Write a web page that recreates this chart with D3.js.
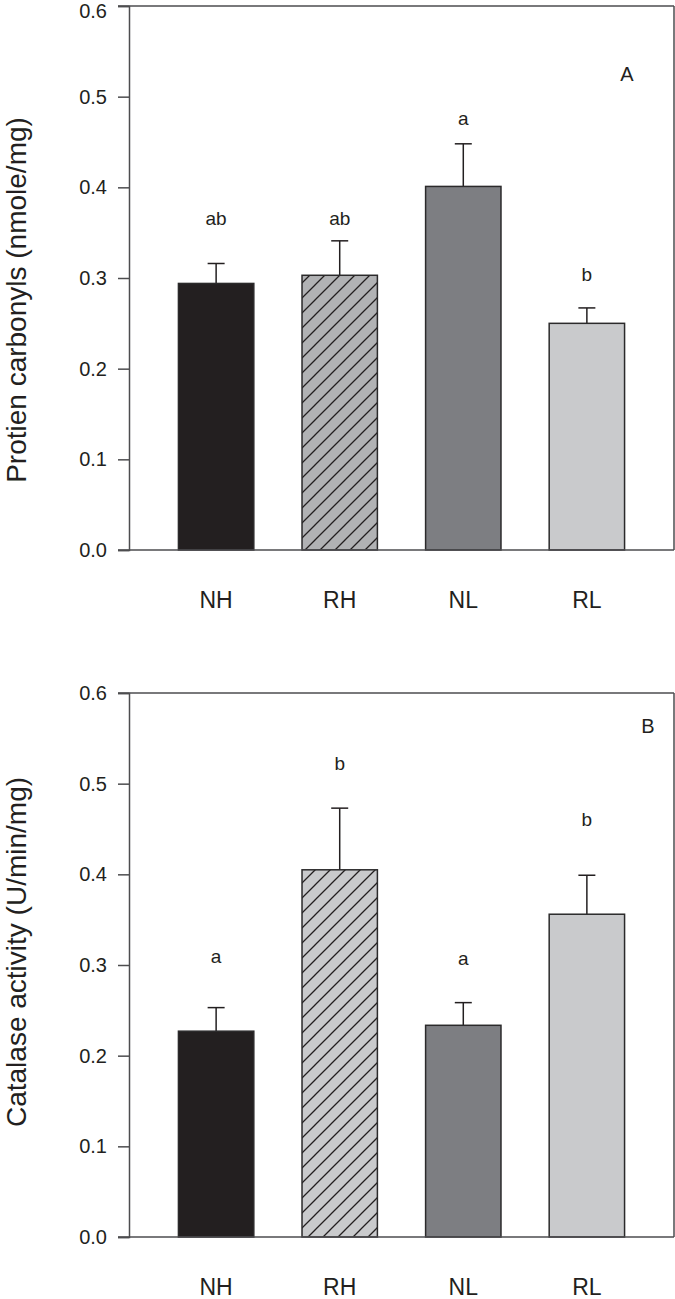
<!DOCTYPE html>
<html>
<head>
<meta charset="utf-8">
<script src="https://cdn.jsdelivr.net/npm/d3@7"></script>
<style>
  html, body { margin: 0; padding: 0; background: #ffffff; }
  svg { display: block; }
  text { font-family: "Liberation Sans", Arial, Helvetica, sans-serif; fill: #231f20; }
</style>
</head>
<body>
<script>
// ---------- data ----------
const categories = ["NH", "RH", "NL", "RL"];
const yTicks = [0.0, 0.1, 0.2, 0.3, 0.4, 0.5, 0.6];

const carbonylMeans   = [0.294, 0.303, 0.401, 0.250];
const carbonylErrors  = [0.022, 0.038, 0.047, 0.017];
const carbonylLetters = ["ab", "ab", "a", "b"];
const carbonylLetterY = [0.358, 0.358, 0.469, 0.297];

const catalaseMeans   = [0.227, 0.405, 0.2335, 0.356];
const catalaseErrors  = [0.026, 0.068, 0.025, 0.043];
const catalaseLetters = ["a", "b", "a", "b"];
const catalaseLetterY = [0.302, 0.515, 0.300, 0.453];

const barFills = ["#231f20", null, "#7d7e82", "#c9cacc"];

// ---------- drawing ----------
const W = 675, H = 1299;
const svg = d3.select("body").append("svg").attr("width", W).attr("height", H);
const defs = svg.append("defs");

function defineHatch(id, bg) {
  const p = defs.append("pattern")
    .attr("id", id).attr("patternUnits", "userSpaceOnUse")
    .attr("width", 15).attr("height", 15);
  p.append("rect").attr("width", 15).attr("height", 15).attr("fill", bg);
  p.append("path").attr("d", "M-2,2 L2,-2 M0,15 L15,0 M13,17 L17,13")
    .attr("stroke", "#231f20").attr("stroke-width", 1.3);
}
defineHatch("hatchA", "#b1b2b4");
defineHatch("hatchB", "#c9cacc");

function drawPanel(opts) {
  const { top, bottom, left, right, means, errors, letters, letterY, title, titleY, panelLabel, hatchId, labelPos } = opts;
  const x = d3.scaleBand().domain(categories).range([left, right])
    .paddingInner(0.39).paddingOuter(0.4);
  const y = d3.scaleLinear().domain([0, 0.6]).range([bottom, top]);
  const g = svg.append("g");
  const rows = categories.map((c, i) => ({ c, m: means[i], e: errors[i], l: letters[i], ly: letterY[i], i }));
  const cx = d => x(d.c) + x.bandwidth() / 2;

  // error bars
  const eg = g.append("g").attr("stroke", "#231f20").attr("stroke-width", 1.5);
  eg.selectAll("line.v").data(rows).join("line").attr("class", "v")
    .attr("x1", cx).attr("x2", cx)
    .attr("y1", d => y(d.m)).attr("y2", d => y(d.m + d.e));
  eg.selectAll("line.cap").data(rows).join("line").attr("class", "cap")
    .attr("x1", d => cx(d) - 8.5).attr("x2", d => cx(d) + 8.5)
    .attr("y1", d => y(d.m + d.e)).attr("y2", d => y(d.m + d.e));

  // bars
  g.append("g").selectAll("rect").data(rows).join("rect")
    .attr("x", d => x(d.c)).attr("width", x.bandwidth())
    .attr("y", d => y(d.m)).attr("height", d => y(0) - y(d.m))
    .attr("fill", d => d.i === 1 ? `url(#${hatchId})` : barFills[d.i])
    .attr("stroke", "#2b2a2b").attr("stroke-width", 1.5);

  // frame (top, right, bottom)
  const frameColor = "#4d4d4f";
  g.append("line").attr("x1", left - 11).attr("x2", right).attr("y1", top).attr("y2", top)
    .attr("stroke", frameColor).attr("stroke-width", 1.5);
  g.append("line").attr("x1", right).attr("x2", right).attr("y1", top).attr("y2", bottom)
    .attr("stroke", frameColor).attr("stroke-width", 1.5);
  g.append("line").attr("x1", left - 11).attr("x2", right).attr("y1", bottom).attr("y2", bottom)
    .attr("stroke", frameColor).attr("stroke-width", 1.5);

  // y axis
  const ax = g.append("g").attr("transform", `translate(${left},0)`)
    .call(d3.axisLeft(y).tickValues(yTicks).tickFormat(d3.format(".1f")).tickSize(11).tickPadding(11));
  ax.select(".domain").attr("stroke", frameColor).attr("stroke-width", 1.5);
  ax.selectAll(".tick line").attr("stroke", frameColor).attr("stroke-width", 1.5);
  ax.selectAll(".tick text").attr("font-size", 20).attr("fill", "#231f20")
    .style("font-family", "Liberation Sans, Arial, sans-serif");
  // keep a label at the very top edge inside the picture
  ax.selectAll(".tick text").filter(d => y(d) < 14).attr("dy", "0.55em");

  // category labels
  g.append("g").selectAll("text").data(rows).join("text")
    .attr("x", cx).attr("y", bottom + 58)
    .attr("text-anchor", "middle").attr("font-size", 23).text(d => d.c);

  // significance letters
  g.append("g").selectAll("text").data(rows).join("text")
    .attr("x", cx).attr("y", d => y(d.ly))
    .attr("text-anchor", "middle").attr("font-size", 19).text(d => d.l);

  // panel letter
  g.append("text").attr("x", labelPos[0]).attr("y", labelPos[1])
    .attr("text-anchor", "middle").attr("font-size", 20).text(panelLabel);

  // y title
  g.append("text").attr("transform", `translate(26,${titleY}) rotate(-90)`)
    .attr("text-anchor", "middle").attr("font-size", 28).text(title);
}

drawPanel({
  top: 6, bottom: 550, left: 129, right: 674,
  means: carbonylMeans, errors: carbonylErrors, letters: carbonylLetters, letterY: carbonylLetterY,
  title: "Protien carbonyls (nmole/mg)", titleY: 300, panelLabel: "A", hatchId: "hatchA", labelPos: [627, 81]
});
drawPanel({
  top: 693, bottom: 1237, left: 129, right: 674,
  means: catalaseMeans, errors: catalaseErrors, letters: catalaseLetters, letterY: catalaseLetterY,
  title: "Catalase activity (U/min/mg)", titleY: 952, panelLabel: "B", hatchId: "hatchB", labelPos: [648, 733]
});
</script>
</body>
</html>
